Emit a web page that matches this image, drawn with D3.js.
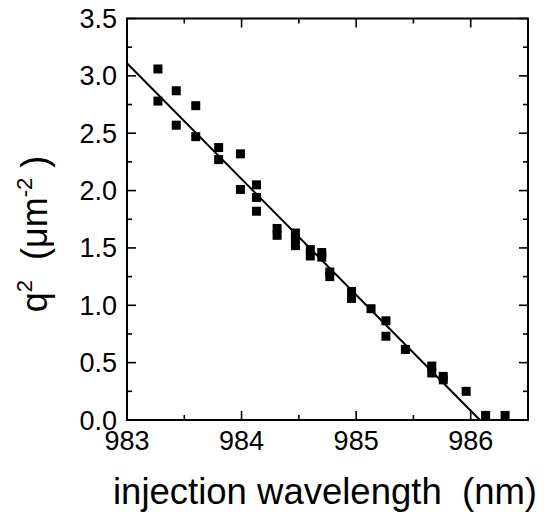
<!DOCTYPE html>
<html><head><meta charset="utf-8">
<script src="https://cdn.jsdelivr.net/npm/d3@7"></script>
<style>html,body{margin:0;padding:0;background:#fff;}svg{display:block;}</style>
</head><body>
<svg id="c" width="547" height="522"></svg>
<script>
const wavelength = [983.27,983.27,983.43,983.43,983.60,983.60,983.80,983.80,983.99,983.99,
  984.13,984.13,984.13,984.31,984.31,984.47,984.47,984.47,984.60,984.60,984.70,984.70,
  984.77,984.77,984.96,984.96,985.13,985.26,985.26,985.43,985.66,985.66,985.76,985.76,
  985.96,986.13,986.30];
const q2 = [3.06,2.78,2.87,2.57,2.74,2.47,2.375,2.27,2.32,2.01,
  2.05,1.94,1.82,1.67,1.61,1.63,1.58,1.52,1.485,1.43,1.46,1.42,
  1.29,1.25,1.12,1.06,0.97,0.865,0.73,0.615,0.47,0.41,0.38,0.35,
  0.25,0.04,0.04];
const fitX = [983, 986.08];
const fitY = [3.11, 0];
const xTicks = [983,984,985,986];
const xMinor = [983.5,984.5,985.5,986.5];
const yTicks = [0,0.5,1,1.5,2,2.5,3,3.5];
const yMinor = [0.25,0.75,1.25,1.75,2.25,2.75,3.25];

const svg = d3.select("#c");
const L=127,R=528,T=18.5,B=420;
const x = d3.scaleLinear().domain([983,986.5]).range([L,R]);
const y = d3.scaleLinear().domain([0,3.5]).range([B,T]);
const font = "'Liberation Sans', Arial, sans-serif";
const MJ=9, MN=5;

svg.append("rect").attr("x",L).attr("y",T).attr("width",R-L).attr("height",B-T)
  .attr("fill","none").attr("stroke","#000").attr("stroke-width",2);

const g = svg.append("g").attr("stroke","#000").attr("stroke-width",1.6);
xTicks.forEach(v=>{
  g.append("line").attr("x1",x(v)).attr("x2",x(v)).attr("y1",B).attr("y2",B-MJ);
  g.append("line").attr("x1",x(v)).attr("x2",x(v)).attr("y1",T).attr("y2",T+MJ);
});
xMinor.forEach(v=>{
  g.append("line").attr("x1",x(v)).attr("x2",x(v)).attr("y1",B).attr("y2",B-MN);
  g.append("line").attr("x1",x(v)).attr("x2",x(v)).attr("y1",T).attr("y2",T+MN);
});
yTicks.forEach(v=>{
  g.append("line").attr("x1",L).attr("x2",L+MJ).attr("y1",y(v)).attr("y2",y(v));
  g.append("line").attr("x1",R).attr("x2",R-MJ).attr("y1",y(v)).attr("y2",y(v));
});
yMinor.forEach(v=>{
  g.append("line").attr("x1",L).attr("x2",L+MN).attr("y1",y(v)).attr("y2",y(v));
  g.append("line").attr("x1",R).attr("x2",R-MN).attr("y1",y(v)).attr("y2",y(v));
});

svg.append("g").selectAll("text").data(xTicks).join("text")
  .attr("x",d=>x(d)).attr("y",450).attr("text-anchor","middle")
  .attr("font-family",font).attr("font-size",27).text(d=>d);
svg.append("g").selectAll("text").data(yTicks).join("text")
  .attr("x",117).attr("y",d=>y(d)+9.5).attr("text-anchor","end")
  .attr("font-family",font).attr("font-size",27).text(d=>d.toFixed(1));

const line = d3.line().x(d=>x(d[0])).y(d=>y(d[1]));
svg.append("path").datum(fitX.map((v,i)=>[v,fitY[i]])).attr("d",line)
  .attr("fill","none").attr("stroke","#000").attr("stroke-width",2);

const S=9;
svg.append("g").selectAll("rect").data(wavelength.map((v,i)=>[v,q2[i]])).join("rect")
  .attr("x",d=>x(d[0])-S/2).attr("y",d=>y(d[1])-S/2).attr("width",S).attr("height",S)
  .attr("fill","#000");

svg.append("text").attr("x",325).attr("y",504).attr("text-anchor","middle")
  .attr("font-family",font).attr("font-size",36.5).attr("xml:space","preserve")
  .text("injection wavelength  (nm)");
const yt = svg.append("text").attr("transform","translate(47,234) rotate(-90)")
  .attr("text-anchor","middle").attr("font-family",font).attr("font-size",36)
  .attr("xml:space","preserve");
yt.append("tspan").text("q");
yt.append("tspan").attr("font-size",22).attr("dy",-15).text("2");
yt.append("tspan").attr("dy",15).text("  (\u03bcm");
yt.append("tspan").attr("font-size",22).attr("dy",-15).text("-2");
yt.append("tspan").attr("dy",15).text(" )");
</script>
</body></html>
